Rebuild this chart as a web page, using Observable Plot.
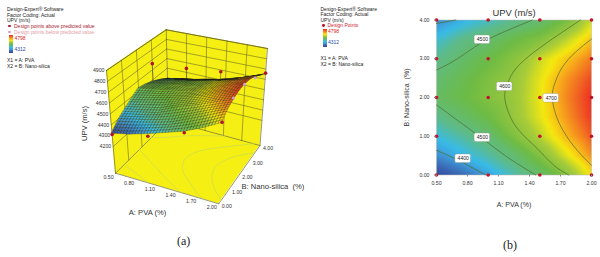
<!DOCTYPE html>
<html><head><meta charset="utf-8">
<script src="https://cdn.jsdelivr.net/npm/d3@7"></script>
<script src="https://cdn.jsdelivr.net/npm/@observablehq/plot@0.6"></script>
<style>
html,body{margin:0;padding:0;background:#fff;width:600px;height:257px;overflow:hidden;font-family:"Liberation Sans",Arial,sans-serif}
#page{position:relative;width:600px;height:257px}
#page svg{position:absolute;background:transparent;overflow:visible}
.lg{position:absolute;font-size:5px;line-height:5.6px;color:#222;white-space:nowrap}
.cap{position:absolute;font-family:"Liberation Serif",serif;font-size:12px;color:#222}
.bar{position:absolute;width:4px}
</style></head><body><div id="page"></div>
<script>
// ---- data ----
const pvaGrid = [0.5,0.75,1.0,1.25,1.5,1.75,2.0];
const silicaGrid = [0,0.5,1,1.5,2,2.5,3,3.5,4];
const upvB00 = [4320,4355,4405,4460,4515,4590,4680];
const upvB05 = [4388,4425,4465,4510,4585,4660,4735];
const upvB10 = [4435,4470,4508,4582,4640,4708,4770];
const upvB15 = [4480,4520,4560,4610,4665,4730,4790];
const upvB20 = [4525,4555,4585,4615,4670,4740,4795];
const upvB25 = [4510,4545,4580,4610,4665,4730,4780];
const upvB30 = [4480,4520,4555,4595,4650,4698,4750];
const upvB35 = [4440,4485,4515,4555,4585,4640,4702];
const upvB40 = [4385,4420,4450,4480,4510,4570,4650];
const upvRows = [upvB00,upvB05,upvB10,upvB15,upvB20,upvB25,upvB30,upvB35,upvB40];

const contour4700 = [[2,3.51],[1.845,3.17],[1.717,2.78],[1.643,2.35],[1.62,2.01],[1.652,1.58],[1.733,1.11],[1.862,0.635],[2,0.25]];
const contour4600 = [[1.894,4],[1.669,3.6],[1.443,3.17],[1.266,2.74],[1.186,2.35],[1.16,2.01],[1.202,1.58],[1.298,1.15],[1.475,0.68],[1.636,0.25],[1.781,0]];
const contour4500a = [[0.5,2.71],[0.703,3],[0.928,3.4],[1.186,3.73],[1.427,4]];
const contour4500b = [[0.5,1.81],[0.703,1.41],[0.944,0.94],[1.186,0.46],[1.46,0]];
const contour4400a = [[0.5,0.635],[0.703,0.39],[0.976,0]];
const contour4400b = [[0.5,3.91],[0.687,4]];
const contours = [contour4700,contour4600,contour4500a,contour4500b,contour4400a,contour4400b];

const labelText = ["4500","4600","4700","4500","4400"];
const labelA = [0.944,1.16,1.61,0.944,0.758];
const labelB = [3.49,2.28,1.98,0.96,0.42];

const designA = [0.5,1,1.5,2];
const designB = [0,1,2,3,4];

const above3d = [[0.5,0,4312],[1,0,4385],[1.5,0,4506],[2,0,4686],[0.5,3,4661],[1,3,4688],[1.5,3,4728],[2,4,4660]];
const below3d = [[2,1,4790],[2,2,4800],[2,3,4740]];

const colorStops = [4312,4350,4400,4430,4480,4560,4630,4675,4720,4760,4798];
const colorRange = ["#33479b","#3a63b0","#3f9bd8","#38bbe8","#5dbb8c","#6dbb45","#a8cc3a","#f5e90f","#f8a91c","#f26a22","#ec2a24"];

const aTicks = [0.5,0.8,1.1,1.4,1.7,2.0];
const bTicks = [0,1,2,3,4];
const zTicks = [4200,4300,4400,4500,4600,4700,4800,4900];

// ---- helpers ----
const colorScale = {type:"linear",domain:colorStops,range:colorRange,clamp:true};
const f2 = d3.format(".2f");
function upvAt(a,b){
  const i=Math.min(pvaGrid.length-2,Math.max(0,d3.bisectRight(pvaGrid,a)-1));
  const j=Math.min(silicaGrid.length-2,Math.max(0,d3.bisectRight(silicaGrid,b)-1));
  const s=(a-pvaGrid[i])/(pvaGrid[i+1]-pvaGrid[i]), t=(b-silicaGrid[j])/(silicaGrid[j+1]-silicaGrid[j]);
  return (1-t)*((1-s)*upvRows[j][i]+s*upvRows[j][i+1])+t*((1-s)*upvRows[j+1][i]+s*upvRows[j+1][i+1]);
}
// ---- camera of the 3D box: where each box corner lands ----
const zFloor=3955, zTop=4900;
const camera={f00:[115,172.7,106,70],f10:[218.3,203.3,222.5,98],f01:[168,120,165.7,29.3],f11:[259.5,145,267,48]};
function project(a,b,z){
  const u=(a-0.5)/1.5,v=b/4,w=(z-zFloor)/(zTop-zFloor);
  const mix=k=>{
    const bot=(1-v)*((1-u)*camera.f00[k]+u*camera.f10[k])+v*((1-u)*camera.f01[k]+u*camera.f11[k]);
    const top=(1-v)*((1-u)*camera.f00[k+2]+u*camera.f10[k+2])+v*((1-u)*camera.f01[k+2]+u*camera.f11[k+2]);
    return (1-w)*bot+w*top;
  };
  return [mix(0),mix(1)];
}
function quad(id,p,q,r,s,extra){
  return [{id,x1:p[0],y1:p[1],x2:s[0],y2:s[1],...extra},{id,x1:q[0],y1:q[1],x2:r[0],y2:r[1],...extra}];
}
const P=(a,b,z)=>project(a,b,z);
const walls=[
  ...quad("left",P(.5,0,zFloor),P(.5,4,zFloor),P(.5,4,zTop),P(.5,0,zTop)),
  ...quad("back",P(.5,4,zFloor),P(2,4,zFloor),P(2,4,zTop),P(.5,4,zTop)),
  ...quad("floor",P(.5,0,zFloor),P(2,0,zFloor),P(2,4,zFloor),P(.5,4,zFloor))
];
const seg=(id,a,b)=>[{id,x:a[0],y:a[1]},{id,x:b[0],y:b[1]}];
const gridSegs=[];
zTicks.forEach(z=>{
  gridSegs.push(...seg("zl"+z,P(.5,0,z),P(.5,4,z)),...seg("zb"+z,P(.5,4,z),P(2,4,z)));
});
bTicks.slice(1,-1).forEach(b=>gridSegs.push(...seg("bv"+b,P(.5,b,zFloor),P(.5,b,zTop))));
aTicks.slice(1,-1).forEach(a=>gridSegs.push(...seg("av"+a,P(a,4,zFloor),P(a,4,zTop))));
const edgeSegs=[
  ...seg("e1",P(.5,0,zFloor),P(.5,0,zTop)),...seg("e2",P(.5,0,zTop),P(.5,4,zTop)),
  ...seg("e3",P(.5,4,zTop),P(2,4,zTop)),...seg("e4",P(2,4,zTop),P(2,4,zFloor)),
  ...seg("e5",P(2,4,zFloor),P(2,0,zFloor)),...seg("e6",P(2,0,zFloor),P(.5,0,zFloor)),
  ...seg("e7",P(.5,0,zFloor),P(.5,4,zFloor)),...seg("e8",P(.5,4,zFloor),P(2,4,zFloor)),
  ...seg("e9",P(.5,4,zFloor),P(.5,4,zTop))
];
const floorLines=[];
contours.forEach((c,i)=>c.forEach(([a,b])=>{const p=P(a,b,zFloor);floorLines.push({id:i,x:p[0],y:p[1]})}));
const nA=36,nB=36,surface=[];
for(let j=nB-1;j>=0;j--)for(let i=0;i<nA;i++){
  const a0=.5+1.5*i/nA,a1=.5+1.5*(i+1)/nA,b0=4*j/nB,b1=4*(j+1)/nB;
  const z=upvAt((a0+a1)/2,(b0+b1)/2);
  surface.push(...quad(i+"_"+j,P(a0,b0,upvAt(a0,b0)),P(a1,b0,upvAt(a1,b0)),P(a1,b1,upvAt(a1,b1)),P(a0,b1,upvAt(a0,b1)),{Z:z}));
}
// dark rim along the top silhouette of the surface (highest on-screen point of each A column)
const rim=d3.range(.72,1.72,.05).map(a=>{
  const p=d3.least(d3.range(0,4.01,.1).map(b=>P(a,b,upvAt(a,b))),q=>q[1]);
  return {x:p[0],y:p[1]};
});
const stems=[...above3d,...below3d].filter(d=>d[1]>0).map(([a,b,z])=>{const p=P(a,b,z),q=P(a,b,upvAt(a,b));return{x1:p[0],y1:p[1],x2:q[0],y2:q[1]}});
const dotRows=arr=>arr.map(([a,b,z])=>{const p=P(a,b,z);return{x:p[0],y:p[1]}});
const aLabels=aTicks.map(a=>{const p=P(a,0,zFloor);return{t:f2(a),x:p[0]-7,y:p[1]+4}});
const bLabels=bTicks.map(b=>{const p=P(2,b,zFloor);return{t:f2(b),x:p[0]+8,y:p[1]+3}});
const zLabels=zTicks.map(z=>{const p=P(.5,0,z);return{t:String(z),x:p[0]-2,y:p[1]}});

const txt={fontFamily:"Liberation Sans, Arial, sans-serif",background:"transparent"};
const yellow="#f6ef14", gridC="#6f6d1e";

const plotA=Plot.plot({
  width:310,height:257,margin:0,
  x:{domain:[0,310],range:[0,310],axis:null},
  y:{domain:[0,257],range:[0,257],axis:null},
  color:colorScale,style:txt,
  marks:[
    Plot.area(walls,{x1:"x1",y1:"y1",x2:"x2",y2:"y2",z:"id",fill:yellow}),
    Plot.line(gridSegs,{x:"x",y:"y",z:"id",stroke:gridC,strokeWidth:.6}),
    Plot.line(edgeSegs,{x:"x",y:"y",z:"id",stroke:"#55551a",strokeWidth:.6}),
    Plot.line(floorLines,{x:"x",y:"y",z:"id",curve:"natural",stroke:"#c6db55",strokeWidth:.7}),
    Plot.link(stems,{x1:"x1",y1:"y1",x2:"x2",y2:"y2",stroke:"#444",strokeWidth:.5}),
    Plot.area(surface,{x1:"x1",y1:"y1",x2:"x2",y2:"y2",z:"id",fill:"Z",stroke:"#141414",strokeWidth:.3,strokeOpacity:.8}),
    Plot.line(rim,{x:"x",y:"y",stroke:"#1a1a1a",strokeWidth:1.1,curve:"natural"}),
    Plot.dot(dotRows(below3d),{x:"x",y:"y",r:1.5,fill:"#cfa0d8"}),
    Plot.dot(dotRows(above3d),{x:"x",y:"y",r:1.8,fill:"#b3122b"}),
    Plot.text(aLabels,{x:"x",y:"y",text:"t",fontSize:5.2,fill:"#333"}),
    Plot.text(bLabels,{x:"x",y:"y",text:"t",fontSize:5.2,fill:"#333"}),
    Plot.text(zLabels,{x:"x",y:"y",text:"t",fontSize:5.2,fill:"#333",textAnchor:"end"}),
    Plot.text(["A: PVA (%)"],{x:()=>147,y:()=>212,text:d=>d,fontSize:7.6,fill:"#333"}),
    Plot.text(["B: Nano-silica\u00a0\u00a0(%)"],{x:()=>241,y:()=>186,text:d=>d,fontSize:7.6,fill:"#333",textAnchor:"start"}),
    Plot.text(["UPV (m/s)"],{x:()=>84,y:()=>123,text:d=>d,fontSize:7.6,fill:"#333",rotate:-90})
  ]
});
plotA.style.left="0";plotA.style.top="0";

const grid=[];
upvRows.forEach((row,j)=>row.forEach((z,i)=>grid.push({A:pvaGrid[i],B:silicaGrid[j],Z:z})));
const designPts=d3.cross(designA,designB).map(([A,B])=>({A,B}));
const contourRows=contours.flatMap((c,i)=>c.map(([A,B])=>({id:i,A,B})));
const labelRows=labelText.map((t,i)=>({t,A:labelA[i],B:labelB[i]}));

const plotB=Plot.plot({
  width:205,height:220,
  marginLeft:41,marginRight:9,marginTop:19.5,marginBottom:45.5,
  x:{domain:[.5,2],axis:null},y:{domain:[0,4],axis:null},
  color:colorScale,style:txt,
  marks:[
    Plot.raster(grid,{x:"A",y:"B",fill:"Z",interpolate:"barycentric",pixelSize:3}),
    Plot.frame({stroke:"#b5b5b5",strokeWidth:.5}),
    Plot.line(contourRows,{x:"A",y:"B",z:"id",curve:"natural",stroke:"#4f6b2b",strokeWidth:.7}),
    Plot.dot(designPts,{x:"A",y:"B",r:1.8,fill:"#c3122a"}),
    Plot.rect(labelRows,{x1:d=>d.A-.075,x2:d=>d.A+.075,y1:d=>d.B-.11,y2:d=>d.B+.11,fill:"#fff",stroke:"#999",strokeWidth:.4,rx:1.5}),
    Plot.text(labelRows,{x:"A",y:"B",text:"t",fontSize:5,fill:"#222"}),
    Plot.axisX({ticks:aTicks,tickFormat:f2,label:null,fontSize:5.2,tickSize:2,tickPadding:4,stroke:"#888",fill:"#333"}),
    Plot.axisY({ticks:bTicks,tickFormat:f2,label:null,fontSize:5.2,tickSize:2,tickPadding:5,stroke:"#888",fill:"#333"}),
    Plot.text(["UPV (m/s)"],{frameAnchor:"top",dy:-10.5,text:d=>d,fontSize:9.4,fill:"#333"}),
    Plot.text(["A: PVA (%)"],{frameAnchor:"bottom",dy:32,text:d=>d,fontSize:7,fill:"#333"}),
    Plot.text(["B: Nano-silica\u00a0\u00a0(%)"],{frameAnchor:"left",dx:-30,text:d=>d,fontSize:7,fill:"#333",rotate:-90,textAnchor:"middle"})
  ]
});
plotB.style.left="395px";plotB.style.top="0";

const page=document.getElementById("page");
page.append(plotA,plotB);
function lg(x,y,t,c){const d=document.createElement("div");d.className="lg";d.style.left=x+"px";d.style.top=y+"px";d.textContent=t;if(c)d.style.color=c;page.append(d);}
function bar(x,y,h){const d=document.createElement("div");d.className="bar";d.style.left=x+"px";d.style.top=y+"px";d.style.height=h+"px";
 d.style.background="linear-gradient(to top,"+colorRange.join(",")+")";page.append(d);}
function dotEl(x,y,r,c){const d=document.createElement("div");d.style.cssText=`position:absolute;left:${x-r}px;top:${y-r}px;width:${2*r}px;height:${2*r}px;border-radius:50%;background:${c}`;page.append(d);}
lg(7,7,"Design-Expert\u00ae Software");lg(7,12.7,"Factor Coding: Actual");lg(7,18,"UPV (m/s)");
dotEl(9.5,26,1.4,"#b3122b");lg(14,23.6,"Design points above predicted value","#a8202e");
dotEl(9.5,32,1.2,"#d49acb");lg(14,29.8,"Design points below predicted value","#e39aa6");
bar(8.5,35,18);lg(14.5,35.5,"4798","#d22");lg(14.5,47,"4312","#2a4aa8");
lg(7,58,"X1 = A: PVA");lg(7,64,"X2 = B: Nano-silica");
lg(320.5,7,"Design-Expert\u00ae Software");lg(320.5,12.2,"Factor Coding: Actual");lg(320.5,17.5,"UPV (m/s)");
dotEl(323.5,25.5,1.4,"#b3122b");lg(327.5,23.2,"Design Points","#d2202e");
bar(322.5,28.5,18.5);lg(328,29,"4798","#d22");lg(328,40,"4312","#2a4aa8");
lg(320.5,56,"X1 = A: PVA");lg(320.5,62,"X2 = B: Nano-silica");
const c1=document.createElement("div");c1.className="cap";c1.textContent="(a)";c1.style.cssText="left:177px;top:234px";page.append(c1);
const c2=document.createElement("div");c2.className="cap";c2.textContent="(b)";c2.style.cssText="left:503px;top:238px";page.append(c2);
</script></body></html>
